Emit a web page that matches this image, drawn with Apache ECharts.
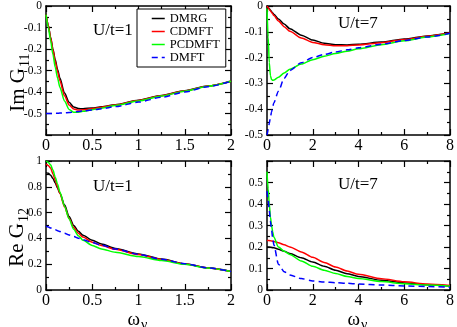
<!DOCTYPE html>
<html>
<head>
<meta charset="utf-8">
<script src="https://cdn.jsdelivr.net/npm/echarts@6/dist/echarts.min.js"></script>
<style>
  html, body { margin: 0; padding: 0; background: #fff; }
  #chart { width: 457px; height: 327px; }
</style>
</head>
<body>
<div id="chart"></div>
<script>
// 频率网格
const wU1 = [0, 0.025, 0.05, 0.075, 0.1, 0.125, 0.15, 0.2, 0.25, 0.3, 0.35, 0.4, 0.5, 0.6, 0.75, 1, 1.25, 1.5, 1.75, 2]
const wU7 = [0, 0.05, 0.1, 0.15, 0.2, 0.25, 0.3, 0.5, 0.75, 1, 1.5, 2, 2.5, 3, 3.5, 4, 5, 6, 7, 8]

// Im G11, U/t=1
const imU1_DMRG = [-0.04, -0.09, -0.145, -0.2, -0.25, -0.295, -0.335, -0.405, -0.448, -0.47, -0.477, -0.478, -0.474, -0.469, -0.459, -0.438, -0.416, -0.394, -0.372, -0.35]
const imU1_CDMFT = [-0.04, -0.09, -0.148, -0.205, -0.258, -0.305, -0.347, -0.418, -0.46, -0.479, -0.484, -0.483, -0.477, -0.471, -0.46, -0.439, -0.417, -0.395, -0.372, -0.35]
const imU1_PCDMFT = [-0.04, -0.1, -0.162, -0.225, -0.285, -0.335, -0.378, -0.442, -0.481, -0.494, -0.494, -0.49, -0.482, -0.475, -0.463, -0.442, -0.419, -0.396, -0.373, -0.35]
const imU1_DMFT = [-0.5, -0.5, -0.5, -0.5, -0.499, -0.499, -0.498, -0.497, -0.495, -0.493, -0.491, -0.488, -0.484, -0.478, -0.468, -0.447, -0.424, -0.4, -0.375, -0.35]

// Im G11, U/t=7
const imU7_DMRG = [0, -0.005, -0.011, -0.016, -0.022, -0.027, -0.032, -0.05, -0.07, -0.088, -0.113, -0.132, -0.144, -0.15, -0.151, -0.148, -0.14, -0.128, -0.116, -0.105]
const imU7_CDMFT = [0, -0.006, -0.013, -0.019, -0.025, -0.031, -0.037, -0.058, -0.08, -0.098, -0.124, -0.141, -0.15, -0.154, -0.154, -0.151, -0.142, -0.13, -0.117, -0.105]
const imU7_PCDMFT = [-0.01, -0.12, -0.22, -0.27, -0.285, -0.288, -0.287, -0.276, -0.26, -0.245, -0.225, -0.208, -0.195, -0.184, -0.175, -0.166, -0.15, -0.135, -0.12, -0.107]
const imU7_DMFT = [-0.5, -0.48, -0.455, -0.43, -0.41, -0.39, -0.375, -0.33, -0.28, -0.25, -0.22, -0.2, -0.188, -0.178, -0.17, -0.162, -0.148, -0.134, -0.12, -0.106]

// Re G12, U/t=1
const reU1_DMRG = [0.91, 0.905, 0.89, 0.865, 0.83, 0.79, 0.75, 0.66, 0.57, 0.5, 0.455, 0.425, 0.385, 0.356, 0.322, 0.28, 0.24, 0.204, 0.172, 0.143]
const reU1_CDMFT = [0.975, 0.965, 0.945, 0.9, 0.85, 0.8, 0.75, 0.645, 0.555, 0.485, 0.44, 0.41, 0.37, 0.345, 0.315, 0.275, 0.236, 0.201, 0.171, 0.143]
const reU1_PCDMFT = [1.0, 0.99, 0.97, 0.93, 0.875, 0.82, 0.76, 0.65, 0.55, 0.47, 0.42, 0.385, 0.345, 0.318, 0.292, 0.26, 0.229, 0.199, 0.17, 0.143]
const reU1_DMFT = [0.495, 0.488, 0.481, 0.474, 0.467, 0.46, 0.453, 0.44, 0.427, 0.414, 0.402, 0.39, 0.368, 0.347, 0.318, 0.276, 0.238, 0.204, 0.172, 0.143]

// Re G12, U/t=7
const reU7_DMRG = [0.2, 0.2, 0.2, 0.199, 0.198, 0.197, 0.196, 0.19, 0.18, 0.17, 0.15, 0.13, 0.11, 0.092, 0.076, 0.063, 0.045, 0.033, 0.025, 0.019]
const reU7_CDMFT = [0.23, 0.23, 0.23, 0.229, 0.228, 0.227, 0.226, 0.22, 0.21, 0.2, 0.177, 0.152, 0.128, 0.107, 0.088, 0.073, 0.052, 0.038, 0.028, 0.021]
const reU7_PCDMFT = [0.55, 0.47, 0.4, 0.34, 0.3, 0.27, 0.245, 0.2, 0.18, 0.165, 0.135, 0.11, 0.092, 0.077, 0.063, 0.053, 0.039, 0.029, 0.023, 0.018]
const reU7_DMFT = [0.46, 0.42, 0.37, 0.32, 0.28, 0.24, 0.21, 0.12, 0.085, 0.07, 0.053, 0.042, 0.037, 0.034, 0.031, 0.028, 0.023, 0.019, 0.016, 0.013]

const methods = ['DMRG', 'CDMFT', 'PCDMFT', 'DMFT']
const colors = { DMRG: '#000000', CDMFT: '#ff0000', PCDMFT: '#00ff00', DMFT: '#0000ff' }

const FONT = 'Liberation Serif'

// 四个子图的网格
const grids = [
  { left: 46, top: 5, width: 185, height: 130 },
  { left: 267, top: 5, width: 184, height: 130 },
  { left: 46, top: 161, width: 185, height: 129 },
  { left: 267, top: 161, width: 184, height: 129 }
]

const axisBase = (gridIndex, position, min, max, interval, showLabel, fontSize, hide) => ({
  type: 'value',
  gridIndex,
  position,
  min,
  max,
  interval,
  axisLine: { show: true, onZero: false, lineStyle: { color: '#000', width: 1.5 } },
  axisTick: { show: true, inside: true, length: 6, lineStyle: { color: '#000', width: 1.2 } },
  minorTick: { show: true, splitNumber: 2, length: 3, lineStyle: { color: '#000', width: 1.2 } },
  splitLine: { show: false },
  axisLabel: {
    show: showLabel,
    color: '#000',
    fontFamily: FONT,
    fontSize,
    margin: position === 'bottom' ? 3 : 4,
    formatter: v => (hide !== undefined && Math.abs(v - hide) < 1e-9) ? '' : String(+v.toFixed(2))
  }
})

const xAxes = []
const yAxes = []
const xSpec = [[0, 2, 0.5], [0, 8, 2], [0, 2, 0.5], [0, 8, 2]]
const ySpec = [[-0.6, 0, 0.1, -0.6], [-0.5, 0, 0.1], [0, 1, 0.2], [0, 0.6, 0.1, 0.6]]
for (let p = 0; p < 4; p++) {
  const [x0, x1, xi] = xSpec[p]
  const [y0, y1, yi, yh] = ySpec[p]
  xAxes.push(axisBase(p, 'bottom', x0, x1, xi, true, 16))
  xAxes.push(axisBase(p, 'top', x0, x1, xi, false, 16))
  yAxes.push(axisBase(p, 'left', y0, y1, yi, true, 11.5, yh))
  yAxes.push(axisBase(p, 'right', y0, y1, yi, false, 11.5))
}

const panels = [
  { xs: wU1, ys: [imU1_DMRG, imU1_CDMFT, imU1_PCDMFT, imU1_DMFT] },
  { xs: wU7, ys: [imU7_DMRG, imU7_CDMFT, imU7_PCDMFT, imU7_DMFT] },
  { xs: wU1, ys: [reU1_DMRG, reU1_CDMFT, reU1_PCDMFT, reU1_DMFT] },
  { xs: wU7, ys: [reU7_DMRG, reU7_CDMFT, reU7_PCDMFT, reU7_DMFT] }
]

const series = []
panels.forEach((pan, p) => {
  methods.forEach((m, k) => {
    series.push({
      name: m,
      type: 'line',
      xAxisIndex: 2 * p,
      yAxisIndex: 2 * p,
      data: pan.xs.map((x, i) => [x, pan.ys[k][i]]),
      symbol: 'none',
      smooth: 0.25,
      smoothMonotone: 'x',
      z: 2 + k,
      lineStyle: { color: colors[m], width: 1.5, type: m === 'DMFT' ? [6, 4] : 'solid' },
      itemStyle: { color: colors[m] }
    })
  })
})

// 带下标的文字
const subText = (x, y, main, sub, rot, size, subSize) => ({
  type: 'group',
  x, y,
  rotation: rot,
  children: [
    { type: 'text', x: 0, y: -0.34 * size, style: { text: main, fontFamily: FONT, fontSize: size, fill: '#000', align: 'right', verticalAlign: 'middle' } },
    { type: 'text', x: 1, y: 4 - 0.34 * subSize, style: { text: sub, fontFamily: FONT, fontSize: subSize, fill: '#000', align: 'left', verticalAlign: 'middle' } }
  ]
})

const label = (x, y, t) => ({
  type: 'text', x, y,
  style: { text: t, fontFamily: FONT, fontSize: 17, fill: '#000', align: 'left', verticalAlign: 'middle' }
})

const chart = echarts.init(document.getElementById('chart'))
chart.setOption({
  animation: false,
  backgroundColor: '#fff',
  grid: grids,
  xAxis: xAxes,
  yAxis: yAxes,
  legend: {
    data: methods,
    orient: 'vertical',
    left: 137,
    top: 9,
    padding: [3, 6, 3, 14],
    itemGap: 0,
    itemWidth: 13,
    itemHeight: 10,
    itemStyle: { opacity: 0 },
    lineStyle: { width: 1.5 },
    borderColor: '#000',
    borderWidth: 1,
    borderRadius: 0,
    backgroundColor: '#fff',
    textStyle: { fontFamily: FONT, fontSize: 12.5, color: '#000', lineHeight: 13 }
  },
  graphic: [
    label(93, 31, 'U/t=1'),
    label(338, 24, 'U/t=7'),
    label(93, 187, 'U/t=1'),
    label(338, 185, 'U/t=7'),
    subText(26, 68, 'Im G', '11', Math.PI / 2, 21, 14),
    subText(25, 223, 'Re G', '12', Math.PI / 2, 21, 14),
    subText(140, 326, 'ω', 'ν', 0, 19, 14),
    subText(360, 326, 'ω', 'ν', 0, 19, 14)
  ],
  series
})
</script>
</body>
</html>
